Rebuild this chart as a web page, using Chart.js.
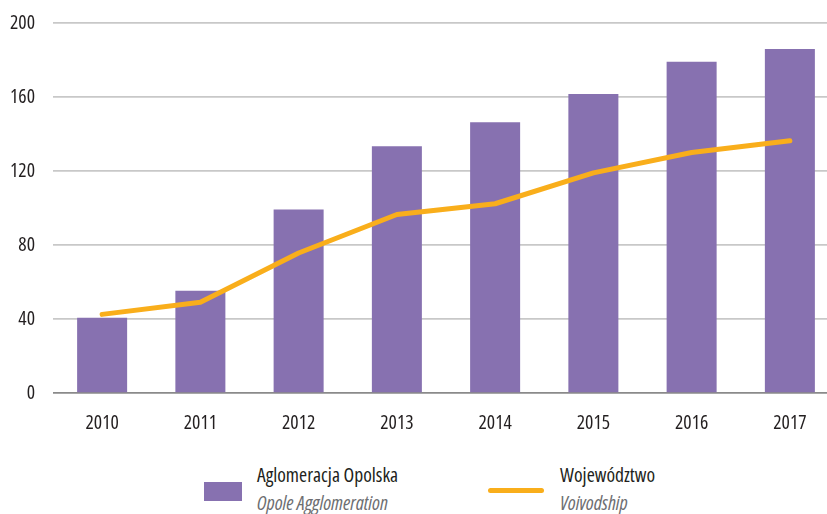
<!DOCTYPE html>
<html>
<head>
<meta charset="utf-8">
<script src="https://cdn.jsdelivr.net/npm/chart.js@4"></script>
<style>
  html, body { margin: 0; padding: 0; background: #fff; overflow: hidden; width: 827px; height: 514px; }
  #wrap { position: absolute; left: 0; top: 0; width: 840px; height: 440px; }
  .leg { position: absolute; font-family: "Open Sans", sans-serif; font-stretch: 75%; font-size: 19.6px; line-height: 28px; white-space: nowrap; }
  .leg .pl { color: #231f20; }
  .leg .en { color: #6d6e71; font-style: italic; }
  .sw { position: absolute; }
</style>
</head>
<body>
<div id="wrap"><canvas id="c" width="840" height="440"></canvas></div>
<div class="sw" style="left:204px; top:482px; width:38px; height:19px; background:#8771B0;"></div>
<div class="leg" style="left:257px; top:461px;"><div class="pl">Aglomeracja Opolska</div><div class="en">Opole Agglomeration</div></div>
<div class="sw" style="left:488px; top:488px; width:56px; height:5px; border-radius:3px; background:#F9AE1B;"></div>
<div class="leg" style="left:560px; top:461px;"><div class="pl">Województwo</div><div class="en">Voivodship</div></div>
<script>
const years = ['2010', '2011', '2012', '2013', '2014', '2015', '2016', '2017'];
const agglomeration = [40.7, 55.3, 99.2, 133.4, 146.4, 161.6, 179, 186];
const voivodship = [42.5, 49, 75.7, 96.5, 102.3, 119, 130, 136.3];
const yTicks = [0, 40, 80, 120, 160, 200];

const tickFont = { family: '"Open Sans", sans-serif', size: 19.6, weight: 'condensed' };

function build() {
  new Chart(document.getElementById('c'), {
    type: 'bar',
    data: {
      labels: years,
      datasets: [
        {
          type: 'line',
          label: 'Województwo',
          data: voivodship,
          borderColor: '#F9AE1B',
          backgroundColor: '#F9AE1B',
          borderWidth: 5,
          pointRadius: 0,
          tension: 0,
          borderCapStyle: 'round',
          borderJoinStyle: 'round',
          order: 0
        },
        {
          type: 'bar',
          label: 'Aglomeracja Opolska',
          data: agglomeration,
          backgroundColor: '#8771B0',
          barPercentage: 0.509,
          categoryPercentage: 1.0,
          order: 1
        }
      ]
    },
    options: {
      responsive: false,
      animation: false,
      layout: { autoPadding: false, padding: { top: 23, left: 0, right: 1, bottom: 0 } },
      plugins: { legend: { display: false }, tooltip: { enabled: false } },
      scales: {
        x: {
          grid: { display: false, drawTicks: false },
          border: { display: false },
          ticks: { color: '#231f20', font: tickFont, padding: 19, maxRotation: 0 },
          afterFit: (s) => { s.height = 47; s.paddingLeft = 0; s.paddingRight = 0; }
        },
        y: {
          min: 0, max: 200,
          afterBuildTicks: (s) => { s.ticks = yTicks.map(v => ({ value: v })); },
          grid: {
            drawTicks: false,
            lineWidth: 1.7,
            color: (ctx) => ctx.tick && ctx.tick.value === 0 ? '#8a8a8a' : '#c8c8c8'
          },
          border: { display: false },
          ticks: { color: '#231f20', font: tickFont, padding: 18 },
          afterFit: (s) => { s.width = 53; s.paddingTop = 0; s.paddingBottom = 0; }
        }
      }
    }
  });
}
document.fonts.load('condensed 19.6px "Open Sans"').then(build, build);
</script>
</body>
</html>
